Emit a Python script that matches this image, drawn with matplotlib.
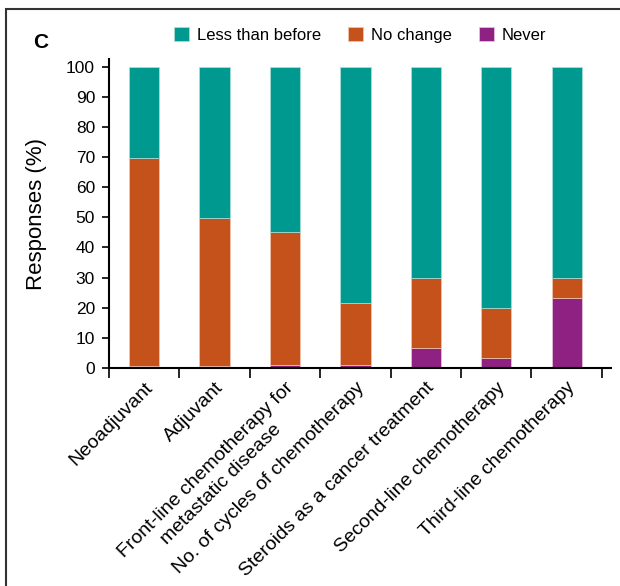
import matplotlib.pyplot as plt
from matplotlib.patches import Rectangle
import numpy as np

plt.rcParams['font.family'] = ['Liberation Sans', 'DejaVu Sans']

categories = ['Neoadjuvant', 'Adjuvant', 'Front-line chemotherapy for\nmetastatic disease',
              'No. of cycles of chemotherapy', 'Steroids as a cancer treatment',
              'Second-line chemotherapy', 'Third-line chemotherapy']
never = [0.6, 0.6, 1.0, 1.0, 6.7, 3.2, 23.2]
no_change = [68.9, 49.2, 44.0, 20.7, 23.1, 16.8, 6.6]
less_than_before = [30.5, 50.2, 55.0, 78.3, 70.2, 80.0, 70.2]

colors = {'less': '#009990', 'same': '#C4521A', 'never': '#8E2182'}

fig = plt.figure(figsize=(6.2, 5.86), dpi=100)
ax = fig.add_axes([0.1758, 0.372, 0.8097, 0.5273])

x = np.arange(len(categories))
w = 0.43
never = np.array(never)
no_change = np.array(no_change)
less_than_before = np.array(less_than_before)

ax.bar(x, never, w, color=colors['never'], edgecolor='#e8c8e0', linewidth=0.5, label='Never')
ax.bar(x, no_change, w, bottom=never, color=colors['same'], edgecolor='#f0c8b0',
       linewidth=0.5, label='No change')
ax.bar(x, less_than_before, w, bottom=never + no_change, color=colors['less'],
       edgecolor='#b0e0dc', linewidth=0.5, label='Less than before')

ax.set_xlim(-0.5, 6.63)
ax.set_ylim(0, 102.5)
ax.set_yticks(range(0, 101, 10))
ax.tick_params(axis='y', labelsize=12.5, length=5, width=1.2, pad=5)

# ticks sit between the bars, labels under each bar
ax.set_xticks(np.arange(-0.5, 7, 1))
ax.set_xticklabels([])
ax.tick_params(axis='x', length=7, width=1.2)
ax.set_xticks(x, minor=True)
ax.set_xticklabels(categories, minor=True, rotation=45, ha='right',
                   rotation_mode='anchor', fontsize=14, multialignment='center',
                   linespacing=1.3)
ax.tick_params(axis='x', which='minor', length=0, pad=8)

for s in ['top', 'right']:
    ax.spines[s].set_visible(False)
for s in ['left', 'bottom']:
    ax.spines[s].set_linewidth(1.5)

ax.set_ylabel('Responses (%)', fontsize=16, labelpad=14)

handles, labels = ax.get_legend_handles_labels()
ax.legend(handles[::-1], labels[::-1], loc='lower center', bbox_to_anchor=(0.5, 1.03),
          ncol=3, frameon=False, fontsize=12, handlelength=0.9, handleheight=0.9,
          handletextpad=0.5, columnspacing=1.6, borderaxespad=0)

fig.text(0.066, 0.928, 'C', fontsize=15, fontweight='bold', va='center', ha='center')

# panel frame running off the right and bottom edges
fig.patches.append(Rectangle((0.01, -0.1), 1.2, 1.085, transform=fig.transFigure,
                             fill=False, edgecolor='#333333', linewidth=1.5))

fig.savefig('out.png', dpi=100)
